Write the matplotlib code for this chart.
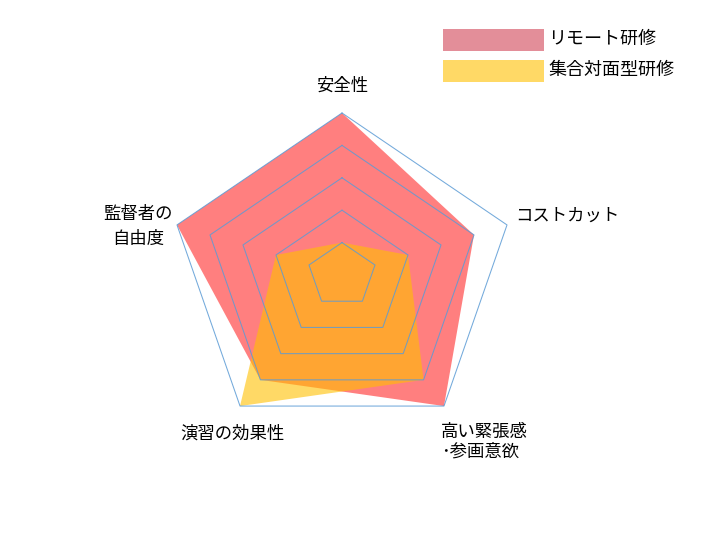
import numpy as np
import matplotlib
matplotlib.use("Agg")
import matplotlib.pyplot as plt
from matplotlib.patches import Rectangle

plt.rcParams['font.family'] = ['Noto Sans CJK JP', 'DejaVu Sans']

# 項目（上から時計回り）
categories = ['安全性', 'コストカット', '高い緊張感\n･参画意欲', '演習の効果性', '監督者の\n自由度']
remote = [5, 4, 5, 4, 5]      # リモート研修
onsite = [1, 2, 4, 5, 2]      # 集合対面型研修
series_names = ['リモート研修', '集合対面型研修']
legend_colors = ['#E38E99', '#FFD966']
levels = [1, 2, 3, 4, 5]

n = len(categories)
ang = np.pi / 2 - 2 * np.pi * np.arange(n) / n


def to_xy(vals):
    v = np.asarray(vals, dtype=float)
    x = v * np.cos(ang)
    y = v * np.sin(ang)
    return np.append(x, x[0]), np.append(y, y[0])


fig = plt.figure(figsize=(7.2, 5.4), dpi=100)
ax = fig.add_axes([0, 0, 1, 1])
ax.set_xlim(-342 / 34.7, 378 / 34.7)
ax.set_ylim(-265 / 32.4, 275 / 32.4)
ax.axis('off')

# 系列
rx, ry = to_xy(remote)
ax.fill(rx, ry, color='#FF0000', alpha=0.5, lw=0, zorder=2)
ox, oy = to_xy(onsite)
ax.fill(ox, oy, color='#FFC000', alpha=0.6, lw=0, zorder=3)

# 目盛りの五角形（塗りの上に細線）
for lv in levels:
    gx, gy = to_xy([lv] * n)
    ax.plot(gx, gy, color='#5B9BD5', lw=0.75, alpha=0.85, zorder=4)

# 軸ラベル
fs = 12.5
ax.text(0, 5.83, categories[0], ha='center', va='center', fontsize=fs)
ax.text(4.99, 1.82, categories[1], ha='left', va='center', fontsize=fs)
ax.text(2.85, -5.15, categories[2], ha='left', va='center', fontsize=fs, linespacing=1.15)
ax.text(-3.17, -4.88, categories[3], ha='center', va='center', fontsize=fs)
ax.text(-5.88, 1.51, categories[4], ha='center', va='center', fontsize=fs, linespacing=1.5)

# 凡例（手描き）
W, H = 720, 540
for i, (name, col) in enumerate(zip(series_names, legend_colors)):
    top = 29 + i * 31
    fig.patches.append(Rectangle((443 / W, 1 - (top + 22) / H), 101 / W, 22 / H,
                                 transform=fig.transFigure, facecolor=col,
                                 edgecolor='none'))
    fig.text(548 / W, 1 - (top + 10) / H, name, ha='left', va='center', fontsize=13)

fig.savefig('out.png', dpi=100)
